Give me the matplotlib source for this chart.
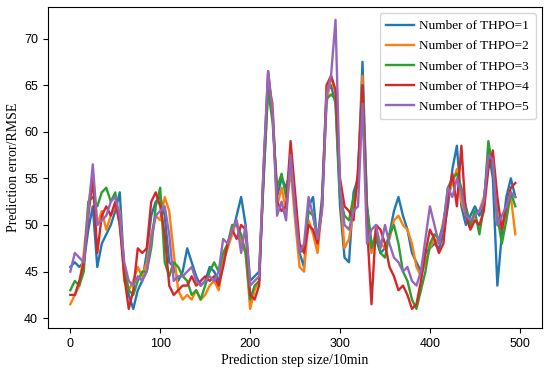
import numpy as np
import matplotlib
matplotlib.use("Agg")
import matplotlib.pyplot as plt

# prediction step (every 5 steps)
steps = np.arange(0, 500, 5)

thpo1 = [45.5, 46, 45.5, 46, 49.5, 52, 45.5, 48, 49, 50,
         51.5, 53.5, 45, 42.5, 41, 43, 44, 47, 51, 52.5,
         53, 51, 46, 45.5, 44, 45, 47.5, 46, 44.5, 43.5,
         44, 45.5, 45, 44, 46, 48, 49, 51, 53, 50,
         44, 44.5, 45, 55, 65, 62, 53, 55, 54, 56,
         53, 47, 45.5, 52, 53, 48, 53, 64, 65, 63,
         52, 46.5, 46, 53.5, 55, 67.5, 52, 48, 48.5, 47,
         47.5, 49, 51.5, 53, 51, 49.5, 47, 46, 45, 47,
         47.5, 48, 47.5, 49, 52, 56, 58.5, 52, 50, 51,
         52, 51, 52, 58, 55, 43.5, 49, 53, 55, 53]

thpo2 = [41.5, 42.5, 43.5, 47, 52, 55.5, 50, 51.5, 49.5, 51,
         52, 51.5, 44, 43, 44, 45.5, 44.5, 46, 49, 51,
         50.5, 53, 51.5, 47, 43, 42, 42.5, 42, 43, 42,
         42.5, 43.5, 44, 43, 46, 47.5, 49, 50.5, 48, 47,
         41, 43, 44, 56, 65.5, 63, 52, 54, 51.5, 56,
         50.5, 45.5, 45, 50.5, 49, 47, 52, 63, 66, 64,
         54, 47.5, 48.5, 51.5, 55, 66, 50, 47, 49.5, 48,
         47.5, 48.5, 50.5, 51, 50, 49.5, 48, 45.5, 44.5, 46,
         47.5, 48.5, 48, 50.5, 53, 54.5, 56, 52.5, 51, 50,
         51, 51.5, 53, 56.5, 57, 50, 49.5, 51.5, 53, 49]

thpo3 = [43, 44, 43.5, 45, 52.5, 53, 52, 53.5, 54, 52.5,
         53.5, 50, 45.5, 43, 42.5, 44, 45, 45, 47.5, 52,
         54, 46, 44.5, 46, 45.5, 44.5, 44, 42.5, 43, 42,
         43.5, 45, 46, 45, 47, 48, 50, 50, 49, 47,
         42, 43.5, 44, 55, 64.5, 61, 54, 55.5, 53, 57,
         52, 47, 47.5, 51.5, 51, 48.5, 52, 63.5, 64, 63.5,
         53, 51, 50.5, 53, 54.5, 65, 52, 47.5, 49, 47,
         46.5, 49, 50, 48, 45, 44, 42, 41, 43, 45,
         48, 49, 48.5, 50, 54, 55, 55.5, 54, 52, 50,
         51.5, 49, 52, 59, 56, 51, 48, 50.5, 53.5, 52]

thpo4 = [42.5, 42.5, 44, 46, 51, 55, 47, 51, 52, 51,
         52.5, 50, 44.5, 41, 43, 47.5, 47, 47.5, 52.5, 53.5,
         52, 49, 43.5, 42.5, 43, 43.5, 43.5, 44.5, 43.5, 44,
         44.5, 44, 44.5, 43.5, 45.5, 48, 49.5, 48.5, 50, 49.5,
         42.5, 42, 43.5, 56, 66.5, 62, 52.5, 51.5, 52, 59,
         53.5, 48, 47, 50, 49.5, 48, 52, 65, 66, 64.5,
         55, 52, 51.5, 50.5, 56, 65, 50, 41.5, 50, 49.5,
         48, 45.5, 44.5, 43, 43.5, 42.5, 41, 41.5, 44, 47,
         49.5, 48.5, 47, 48, 53, 55.5, 52, 58.5, 51, 49.5,
         50.5, 50, 51.5, 56, 58, 53, 49.5, 52, 54, 54.5]

thpo5 = [45, 47, 46.5, 46, 51.5, 56.5, 50, 50.5, 51, 52.5,
         53, 51, 46, 44, 43.5, 44.5, 44, 45, 48.5, 51,
         51.5, 52, 49, 44, 44.5, 44.5, 45, 45.5, 44, 43.5,
         44, 44.5, 44, 45, 48.5, 48, 49.5, 50.5, 47, 50,
         43.5, 44, 44.5, 56.5, 66.5, 62, 51, 52.5, 50.5, 57.5,
         51.5, 47, 48, 53, 51, 48.5, 51.5, 64, 66, 72,
         54, 50, 49.5, 51.5, 52, 63, 48, 49.5, 50, 47.5,
         50, 48, 46.5, 46, 45, 45.5, 44, 43.5, 45, 48.5,
         52, 50, 48, 50, 54, 53, 55, 53.5, 51, 50.5,
         51, 51.5, 52.5, 57.5, 57, 50, 51, 52, 53.5, 53]

series = [thpo1, thpo2, thpo3, thpo4, thpo5]
labels = ['Number of THPO=%d' % (i + 1) for i in range(5)]
colors = ['#1f77b4', '#ff7f0e', '#2ca02c', '#d62728', '#9467bd']

fig = plt.figure(figsize=(5.5, 3.78), dpi=100)
ax = fig.add_axes([0.087, 0.131, 0.899, 0.851])

for y, lab, c in zip(series, labels, colors):
    ax.plot(steps, y, color=c, linewidth=1.7, label=lab)

ax.set_xlim(-25, 525)
ax.set_ylim(38.9, 73.4)
ax.set_xticks([0, 100, 200, 300, 400, 500])
ax.set_yticks([40, 45, 50, 55, 60, 65, 70])

for lb in ax.get_xticklabels() + ax.get_yticklabels():
    lb.set_fontfamily('Liberation Sans')
    lb.set_fontsize(9)

ax.set_xlabel('Prediction step size/10min', family='Liberation Serif', fontsize=10, labelpad=3)
ax.set_ylabel('Prediction error/RMSE', family='Liberation Serif', fontsize=10, labelpad=3)

ax.legend(loc='upper right', prop={'family': 'Liberation Serif', 'size': 9.5},
          handlelength=2.1, handletextpad=0.4, labelspacing=0.6,
          borderpad=0.5, borderaxespad=0.5)

fig.savefig('out.png', dpi=100)
